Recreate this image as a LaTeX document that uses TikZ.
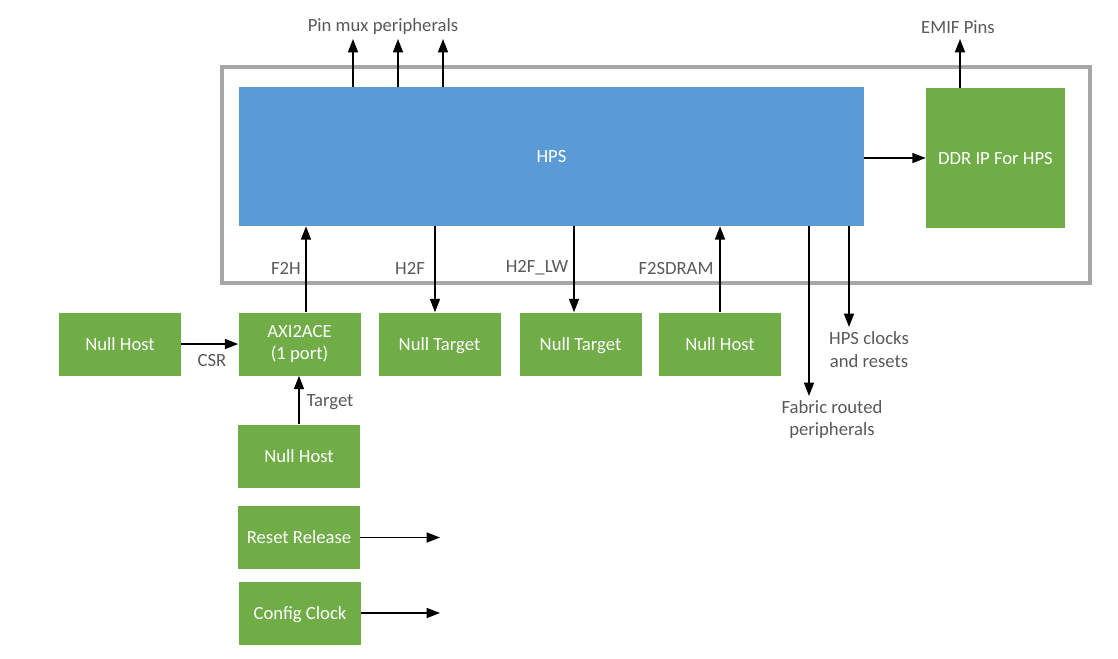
\documentclass[tikz,border=0pt]{standalone}
\usepackage{fontspec}
\setmainfont{Carlito}
\usetikzlibrary{arrows.meta}
\definecolor{hpsblue}{HTML}{5B9BD5}
\definecolor{ipgreen}{HTML}{70AD47}
\definecolor{txtgray}{HTML}{595959}

\begin{document}
\begin{tikzpicture}[x=.75pt,y=-.75pt,
	font=\fontsize{14}{17}\selectfont,
	blk/.style={fill=ipgreen,text=white,inner sep=0,minimum width=91.5pt,minimum height=47.25pt,align=center},
	nodesc/.style={text depth=0pt},
	lbl/.style={text=txtgray,inner sep=0,align=center},
	arr/.style={line width=1.1pt,-{Triangle[length=10pt,width=7.5pt]}}]
	\useasboundingbox (0,0) rectangle (1118,658);
	\draw[gray!70,line width=2.6pt] (222,67) rectangle (1090,283);
	\node[fill=hpsblue,text=white,inner sep=0,minimum width=468.75pt,minimum height=104.25pt] (hps) at (551.5,156.5) {HPS};
	\node[blk,minimum width=104.25pt,minimum height=105pt] (ddr) at (995.5,158) {DDR IP For HPS};
	\path
	(120,344) node[blk] (nhcsr) {Null Host}
	(299.5,344) node[blk] (axi) {AXI2ACE\\(1 port)}
	(439.5,344) node[blk,nodesc] (nth2f) {Null Target}
	(580.5,344) node[blk,nodesc] (ntlw) {Null Target}
	(720,344) node[blk] (nhsdram) {Null Host}
	(299,456) node[blk] (nhtgt) {Null Host}
	(299,537.5) node[blk] (rst) {Reset Release}
	(300,613) node[blk,nodesc] (clk) {Config Clock};
	\path
	(383,27) node[lbl] (pinmux) {Pin mux peripherals}
	(958,27) node[lbl] (emif) {EMIF Pins}
	(286,268) node[lbl] (f2h) {F2H}
	(410,268) node[lbl] (h2f) {H2F}
	(537,268) node[lbl] (h2flw) {H2F\_LW}
	(676,268) node[lbl] (f2sdram) {F2SDRAM}
	(212,360) node[lbl] (csr) {CSR}
	(330,402) node[lbl] (tgt) {Target}
	(869,349.5) node[lbl] (hpsclk) {HPS clocks\\and resets}
	(832,419.5) node[lbl] (fabric) {Fabric routed\\peripherals}
	(440,537.5) coordinate (rstend)
	(440,613) coordinate (clkend);
	\foreach \x in {353,398,443} \draw[arr] (hps.north -| \x,0) -- (\x,39);
	\draw[arr] (ddr.north -| 960,0) -- (960,39);
	\draw[arr] (hps.east |- ddr) -- (ddr.west);
	\draw[arr] (axi.north -| 306,0) -- (hps.south -| 306,0);
	\draw[arr] (hps.south -| 435,0) -- (nth2f.north -| 435,0);
	\draw[arr] (hps.south -| 574,0) -- (ntlw.north -| 574,0);
	\draw[arr] (nhsdram.north) -- (hps.south -| nhsdram);
	\draw[arr] (hps.south -| 809,0) -- (809,396);
	\draw[arr] (hps.south -| 849,0) -- (849,327);
	\draw[arr] (nhcsr.east) -- (axi.west);
	\draw[arr] (nhtgt.north) -- (axi.south -| nhtgt);
	\draw[arr] (rst.east) -- (rstend);
	\draw[arr] (clk.east) -- (clkend);
\end{tikzpicture}
\end{document}
